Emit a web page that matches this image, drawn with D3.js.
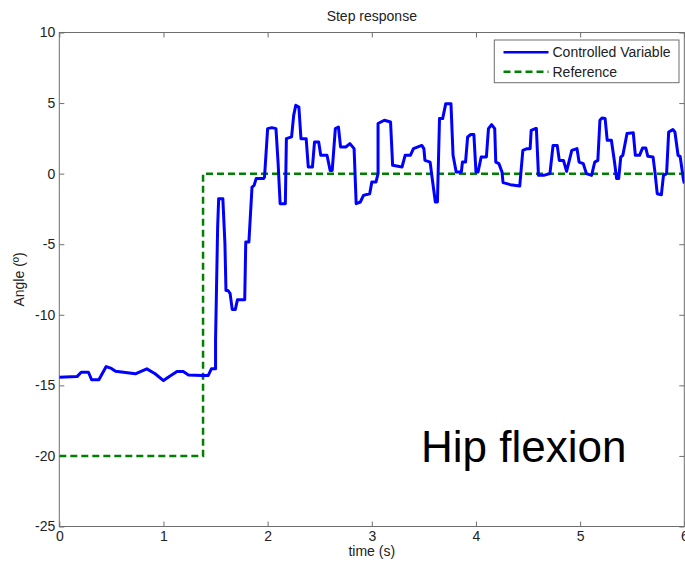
<!DOCTYPE html>
<html>
<head>
<meta charset="utf-8">
<script src="https://cdn.jsdelivr.net/npm/d3@7/dist/d3.min.js"></script>
<style>
  html, body { margin: 0; padding: 0; background: #fff; }
  svg { display: block; font-family: "Liberation Sans", Arial, sans-serif; }
</style>
</head>
<body>
<svg id="chart" width="685" height="564"></svg>
<script>
// Measured joint angle (time in s, angle in degrees)
const timeValues = [
  0.00, 0.17, 0.21, 0.28, 0.31, 0.38, 0.45, 0.50, 0.54, 0.73, 0.84, 0.92, 1.00, 1.06, 1.13, 1.19, 1.24, 1.37, 1.43, 1.46,
  1.50, 1.50, 1.51, 1.52, 1.53, 1.57, 1.59, 1.60, 1.62, 1.64, 1.66, 1.69, 1.71, 1.78, 1.79, 1.82, 1.85, 1.87, 1.89, 1.96,
  1.97, 2.00, 2.04, 2.08, 2.10, 2.12, 2.17, 2.18, 2.23, 2.25, 2.27, 2.30, 2.32, 2.37, 2.39, 2.43, 2.45, 2.49, 2.51, 2.57,
  2.60, 2.62, 2.65, 2.68, 2.70, 2.75, 2.79, 2.83, 2.85, 2.89, 2.92, 2.98, 3.00, 3.04, 3.06, 3.06, 3.12, 3.18, 3.20, 3.29,
  3.32, 3.37, 3.40, 3.48, 3.50, 3.51, 3.56, 3.58, 3.61, 3.63, 3.65, 3.68, 3.71, 3.76, 3.78, 3.81, 3.86, 3.87, 3.90, 3.92,
  3.95, 3.98, 4.00, 4.02, 4.05, 4.10, 4.12, 4.15, 4.18, 4.19, 4.22, 4.25, 4.26, 4.33, 4.42, 4.45, 4.49, 4.52, 4.53, 4.57,
  4.58, 4.60, 4.65, 4.71, 4.74, 4.78, 4.80, 4.84, 4.87, 4.92, 4.97, 4.99, 5.03, 5.06, 5.11, 5.14, 5.17, 5.19, 5.21, 5.24,
  5.26, 5.30, 5.33, 5.35, 5.37, 5.39, 5.41, 5.45, 5.51, 5.53, 5.57, 5.60, 5.63, 5.65, 5.70, 5.72, 5.74, 5.78, 5.80, 5.83,
  5.85, 5.89, 5.91, 5.94, 5.96, 5.99, 6.00
];
const controlledValues = [
  -14.42, -14.38, -14.07, -14.07, -14.60, -14.60, -13.67, -13.80, -14.00, -14.18, -13.83, -14.18, -14.66, -14.35, -14.02, -14.02, -14.26, -14.30, -14.30, -13.83,
  -13.83, -11.80, -7.80, -3.80, -1.77, -1.77, -4.96, -8.28, -8.28, -8.50, -9.62, -9.62, -8.94, -8.94, -4.85, -4.85, -0.95, -0.83, -0.35, -0.35,
  -0.24, 3.19, 3.26, 3.19, 0.82, -2.13, -2.13, 2.48, 2.60, 4.13, 4.84, 4.72, 2.48, 2.48, 0.47, 0.47, 2.24, 2.24, 1.30, 1.30,
  0.23, 0.23, 3.19, 3.30, 1.89, 1.89, 2.13, 1.77, -2.13, -2.01, -1.54, -1.42, -0.60, -0.60, 0.00, 3.55, 3.78, 3.66, 0.59, 0.47,
  1.30, 1.30, 1.77, 2.00, 1.77, 0.94, 0.82, -0.35, -2.01, -2.01, 3.90, 3.90, 4.96, 4.96, 1.30, 0.12, 0.12, 0.82, 0.82, 2.60,
  2.77, 2.77, 0.12, 0.12, 1.18, 1.18, 3.19, 3.47, 3.19, 0.82, 0.71, 0.12, -0.64, -0.78, -0.88, 1.65, 1.77, 1.77, 3.07, 3.19,
  3.19, -0.12, -0.12, 0.00, 2.00, 2.00, 0.94, 0.94, 0.16, 1.65, 1.77, 0.82, 0.71, 0.00, -0.12, 0.82, 0.94, 3.78, 3.94, 3.90,
  2.36, 2.36, 0.82, -0.35, -0.35, 1.18, 1.30, 2.84, 2.90, 1.30, 1.30, 1.82, 1.82, 1.23, 1.18, 0.00, -1.42, -1.49, -0.12, 0.00,
  2.95, 3.12, 2.95, 1.30, 1.23, -0.35, -0.70
];

// Reference step: -20 deg until the step time, then 0 deg
const referenceTimes = [0, 1.38, 1.38, 6];
const referenceValues = [-20, -20, 0, 0];

const xTicks = [0, 1, 2, 3, 4, 5, 6];
const yTicks = [-25, -20, -15, -10, -5, 0, 5, 10];
const legendLabels = ["Controlled Variable", "Reference"];

const margin = { left: 59.3, top: 32.5, right: 0.7, bottom: 37.5 };
const W = 685, H = 564;
const svg = d3.select("#chart");

const x = d3.scaleLinear().domain([0, 6]).range([margin.left, W - margin.right]);
const y = d3.scaleLinear().domain([-25, 10]).range([H - margin.bottom, margin.top]);

const axisColor = "#6e6e6e";
const textColor = "#222";
const plainNumber = d => String(d);

// clip to plot box
svg.append("clipPath").attr("id", "plotClip")
  .append("rect")
  .attr("x", x(0)).attr("y", y(10))
  .attr("width", x(6) - x(0)).attr("height", y(-25) - y(10));

function styleAxis(g, showLabels) {
  g.select(".domain").remove();
  g.selectAll(".tick line").attr("stroke", axisColor).attr("stroke-width", 1);
  g.selectAll(".tick text")
    .attr("fill", textColor)
    .style("font-size", "14px")
    .style("display", showLabels ? null : "none");
}

svg.append("g")
  .attr("transform", `translate(0,${y(-25)})`)
  .call(d3.axisBottom(x).tickValues(xTicks).tickSize(-5).tickPadding(5).tickFormat(plainNumber))
  .call(g => styleAxis(g, true));
svg.append("g")
  .attr("transform", `translate(0,${y(10)})`)
  .call(d3.axisTop(x).tickValues(xTicks).tickSize(-5))
  .call(g => styleAxis(g, false));
svg.append("g")
  .attr("transform", `translate(${x(0)},0)`)
  .call(d3.axisLeft(y).tickValues(yTicks).tickSize(-5).tickPadding(4).tickFormat(plainNumber))
  .call(g => styleAxis(g, true));
svg.append("g")
  .attr("transform", `translate(${x(6)},0)`)
  .call(d3.axisRight(y).tickValues(yTicks).tickSize(-5))
  .call(g => styleAxis(g, false));

// plot frame
svg.append("rect")
  .attr("x", x(0)).attr("y", y(10))
  .attr("width", x(6) - x(0)).attr("height", y(-25) - y(10))
  .attr("fill", "none").attr("stroke", axisColor).attr("stroke-width", 1);

const line = d3.line().x(d => x(d[0])).y(d => y(d[1]));

const plot = svg.append("g").attr("clip-path", "url(#plotClip)");

plot.append("path")
  .datum(referenceTimes.map((t, i) => [t, referenceValues[i]]))
  .attr("d", line)
  .attr("fill", "none")
  .attr("stroke", "#008000")
  .attr("stroke-width", 2.5)
  .attr("stroke-dasharray", "7,4");

plot.append("path")
  .datum(timeValues.map((t, i) => [t, controlledValues[i]]))
  .attr("d", line)
  .attr("fill", "none")
  .attr("stroke", "#0000ff")
  .attr("stroke-width", 3)
  .attr("stroke-linejoin", "round");

// titles
svg.append("text")
  .attr("x", (x(0) + x(6)) / 2).attr("y", 21)
  .attr("text-anchor", "middle").attr("fill", textColor)
  .style("font-size", "14px")
  .text("Step response");

svg.append("text")
  .attr("x", (x(0) + x(6)) / 2).attr("y", 556)
  .attr("text-anchor", "middle").attr("fill", textColor)
  .style("font-size", "14px")
  .text("time (s)");

svg.append("text")
  .attr("transform", `translate(24,${(y(10) + y(-25)) / 2}) rotate(-90)`)
  .attr("text-anchor", "middle").attr("fill", textColor)
  .style("font-size", "14px")
  .text("Angle (º)");

// legend
const legend = svg.append("g");
legend.append("rect")
  .attr("x", 494.3).attr("y", 40)
  .attr("width", 184.7).attr("height", 42.7)
  .attr("fill", "#fff").attr("stroke", axisColor).attr("stroke-width", 1);
const legendStyles = [
  { stroke: "#0000ff", dash: null },
  { stroke: "#008000", dash: "7,4" }
];
legendLabels.forEach((label, i) => {
  const ly = 52.3 + i * 19.4;
  legend.append("line")
    .attr("x1", 503.5).attr("x2", 548.5).attr("y1", ly).attr("y2", ly)
    .attr("stroke", legendStyles[i].stroke)
    .attr("stroke-width", 2.6)
    .attr("stroke-dasharray", legendStyles[i].dash);
  legend.append("text")
    .attr("x", 552.5).attr("y", ly + 5)
    .attr("fill", textColor)
    .style("font-size", "14px")
    .text(label);
});

// annotation
svg.append("text")
  .attr("x", 421).attr("y", 462)
  .attr("fill", "#000")
  .style("font-size", "44px")
  .text("Hip flexion");
</script>
</body>
</html>
